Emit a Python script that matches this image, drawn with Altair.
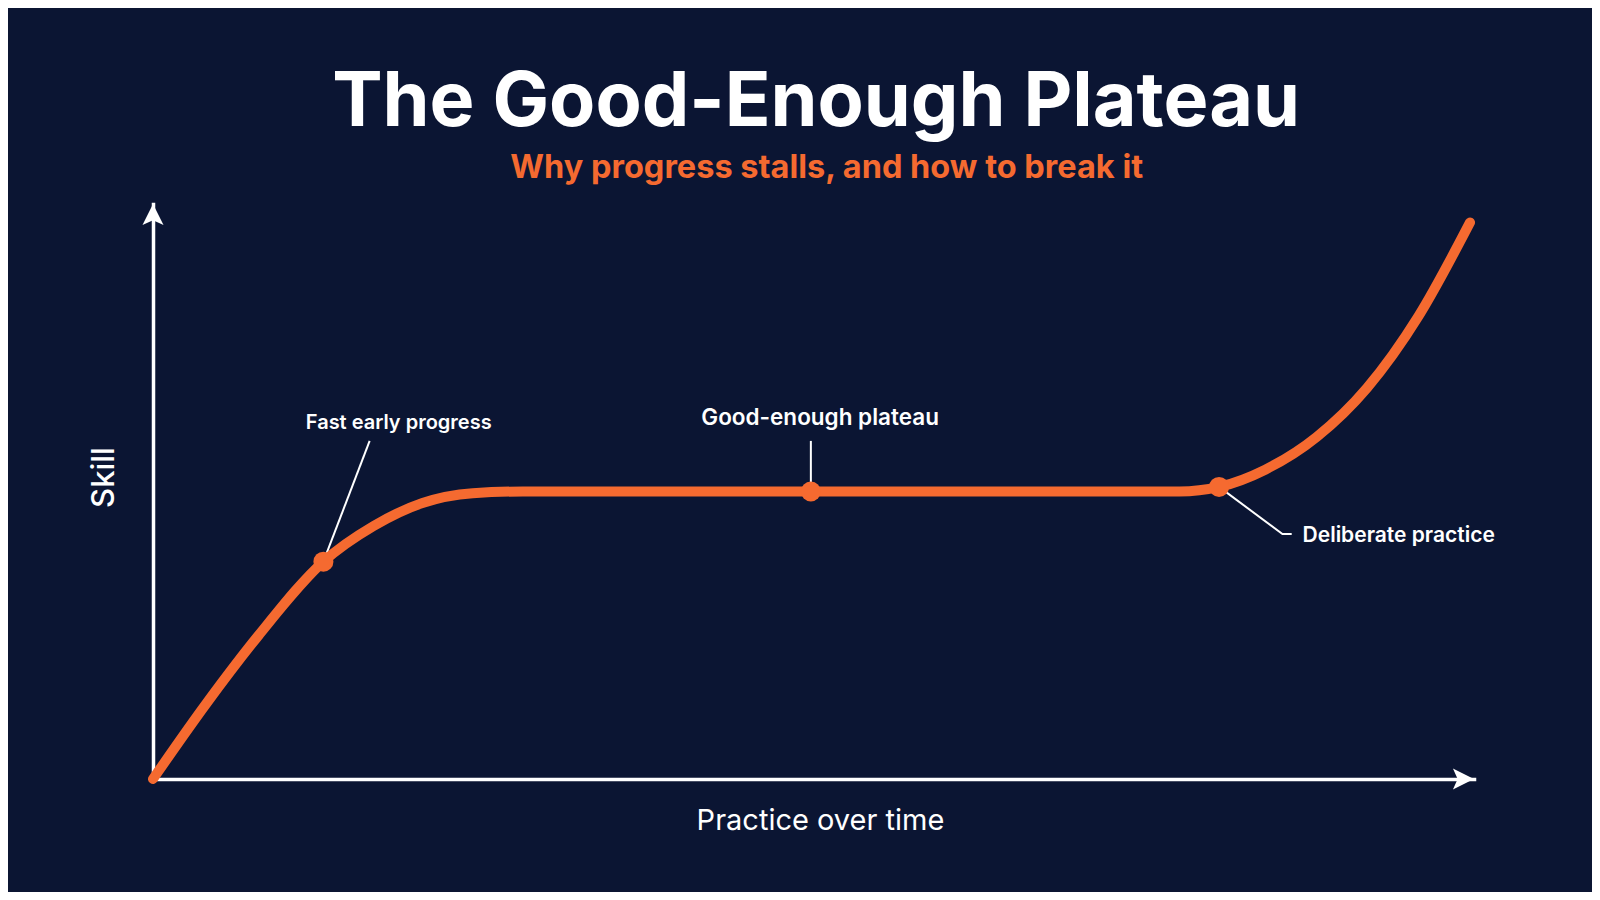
import pandas as pd
import altair as alt

# curve: practice (0-100) vs skill (0-100)
practice = [0, 4, 8, 12.9, 16.7, 20.4, 24.2, 28, 35, 49.8, 65, 77.7, 80.7, 84.2, 88.1, 91.9, 95.8, 99.7]
skill = [0, 13.0, 25.0, 37.8, 44.0, 48.0, 49.7, 50, 50, 50, 50, 50, 50.8, 53.8, 59.5, 68.0, 80.5, 96.8]

# highlighted points on the curve
dot_x = [12.9, 49.8, 80.7]
dot_y = [37.8, 50, 50.8]

# annotation labels and their leader lines
label_text = ["Fast early progress", "Good-enough plateau", "Deliberate practice"]
label_x = [18.6, 50.5, 94.3]
label_y = [60.9, 61.6, 41.2]

lead_id = ["fast", "fast", "plateau", "plateau", "deliberate", "deliberate", "deliberate"]
lead_order = [0, 1, 0, 1, 0, 1, 2]
lead_x = [12.9, 16.4, 49.8, 49.8, 80.7, 85.5, 86.2]
lead_y = [37.8, 58.8, 50, 58.8, 50.8, 42.6, 42.6]

# arrowheads at the ends of the two axes
arrow_x = [99.2, 0]
arrow_y = [0, 98.17]
arrow_angle = [0, 270]

title_text = "The Good-Enough Plateau"
subtitle_text = "Why progress stalls, and how to break it"

ORANGE = "#F56A30"
BG = "#0B1533"
LABEL_SIZES = {"Fast early progress": 20, "Good-enough plateau": 22.5, "Deliberate practice": 21}

curve = pd.DataFrame({"practice": practice, "skill": skill})
dots = pd.DataFrame({"practice": dot_x, "skill": dot_y})
labels = pd.DataFrame({"practice": label_x, "skill": label_y, "text": label_text})
leads = pd.DataFrame({"practice": lead_x, "skill": lead_y, "id": lead_id, "order": lead_order})
arrows = pd.DataFrame({"practice": arrow_x, "skill": arrow_y, "angle": arrow_angle})
heads = pd.DataFrame({"practice": [50.2, 51.0], "skill": [113.6, 104.5],
                      "text": [title_text, subtitle_text]})

xs = alt.Scale(domain=[0, 100], nice=False, zero=False)
ys = alt.Scale(domain=[0, 100], nice=False, zero=False)

line = alt.Chart(curve).mark_line(
    color=ORANGE, strokeWidth=10, strokeCap="round", interpolate="monotone"
).encode(
    x=alt.X("practice:Q", scale=xs, title="Practice over time",
            axis=alt.Axis(titleX=667, titleY=50, titleAlign="center", titleBaseline="alphabetic",
                          titleFontSize=29, titleFontWeight="normal")),
    y=alt.Y("skill:Q", scale=ys, title="Skill",
            axis=alt.Axis(titleX=-49, titleY=273, titleAngle=270, titleAlign="center",
                          titleBaseline="middle", titleFontSize=31, titleFontWeight=500)),
)

leaders = alt.Chart(leads).mark_line(color="white", strokeWidth=2).encode(
    x="practice:Q", y="skill:Q", detail="id:N", order="order:Q"
)

points = alt.Chart(dots).mark_circle(color=ORANGE, opacity=1, size=400).encode(
    x="practice:Q", y="skill:Q"
)

notes = [
    alt.Chart(labels[labels.text == t]).mark_text(
        color="white", font="Inter", fontSize=fs, fontWeight=600, align="center", baseline="alphabetic"
    ).encode(x="practice:Q", y="skill:Q", text="text:N")
    for t, fs in LABEL_SIZES.items()
]

title_mark = alt.Chart(heads.iloc[[0]]).mark_text(
    font="Inter", fontSize=75.5, fontWeight=700, color="white", align="center", baseline="alphabetic"
).encode(x="practice:Q", y="skill:Q", text="text:N")

subtitle_mark = alt.Chart(heads.iloc[[1]]).mark_text(
    font="Inter", fontSize=32.5, fontWeight=700, color=ORANGE, align="center", baseline="alphabetic"
).encode(x="practice:Q", y="skill:Q", text="text:N")

arrowheads = alt.Chart(arrows).mark_point(
    shape="M1,0 L-1,-1 L-0.55,0 L-1,1 Z", size=441, filled=True, fill="white", opacity=1, strokeWidth=0
).encode(x="practice:Q", y="skill:Q", angle=alt.Angle("angle:Q", scale=None))

chart = alt.layer(leaders, line, points, arrowheads, *notes, title_mark, subtitle_mark).properties(
    width=1321, height=575,
    autosize=alt.AutoSizeParams(type="none"),
    padding={"left": 145, "top": 196, "right": 118, "bottom": 113},
    background=BG,
).configure_view(stroke=None).configure_axis(
    domain=True, domainColor="white", domainWidth=3.5, domainCap="square",
    ticks=False, labels=False, grid=False,
    titleColor="white", titleFont="Inter",
)

chart.save("out.html", embed_options={"renderer": "svg", "actions": False})
